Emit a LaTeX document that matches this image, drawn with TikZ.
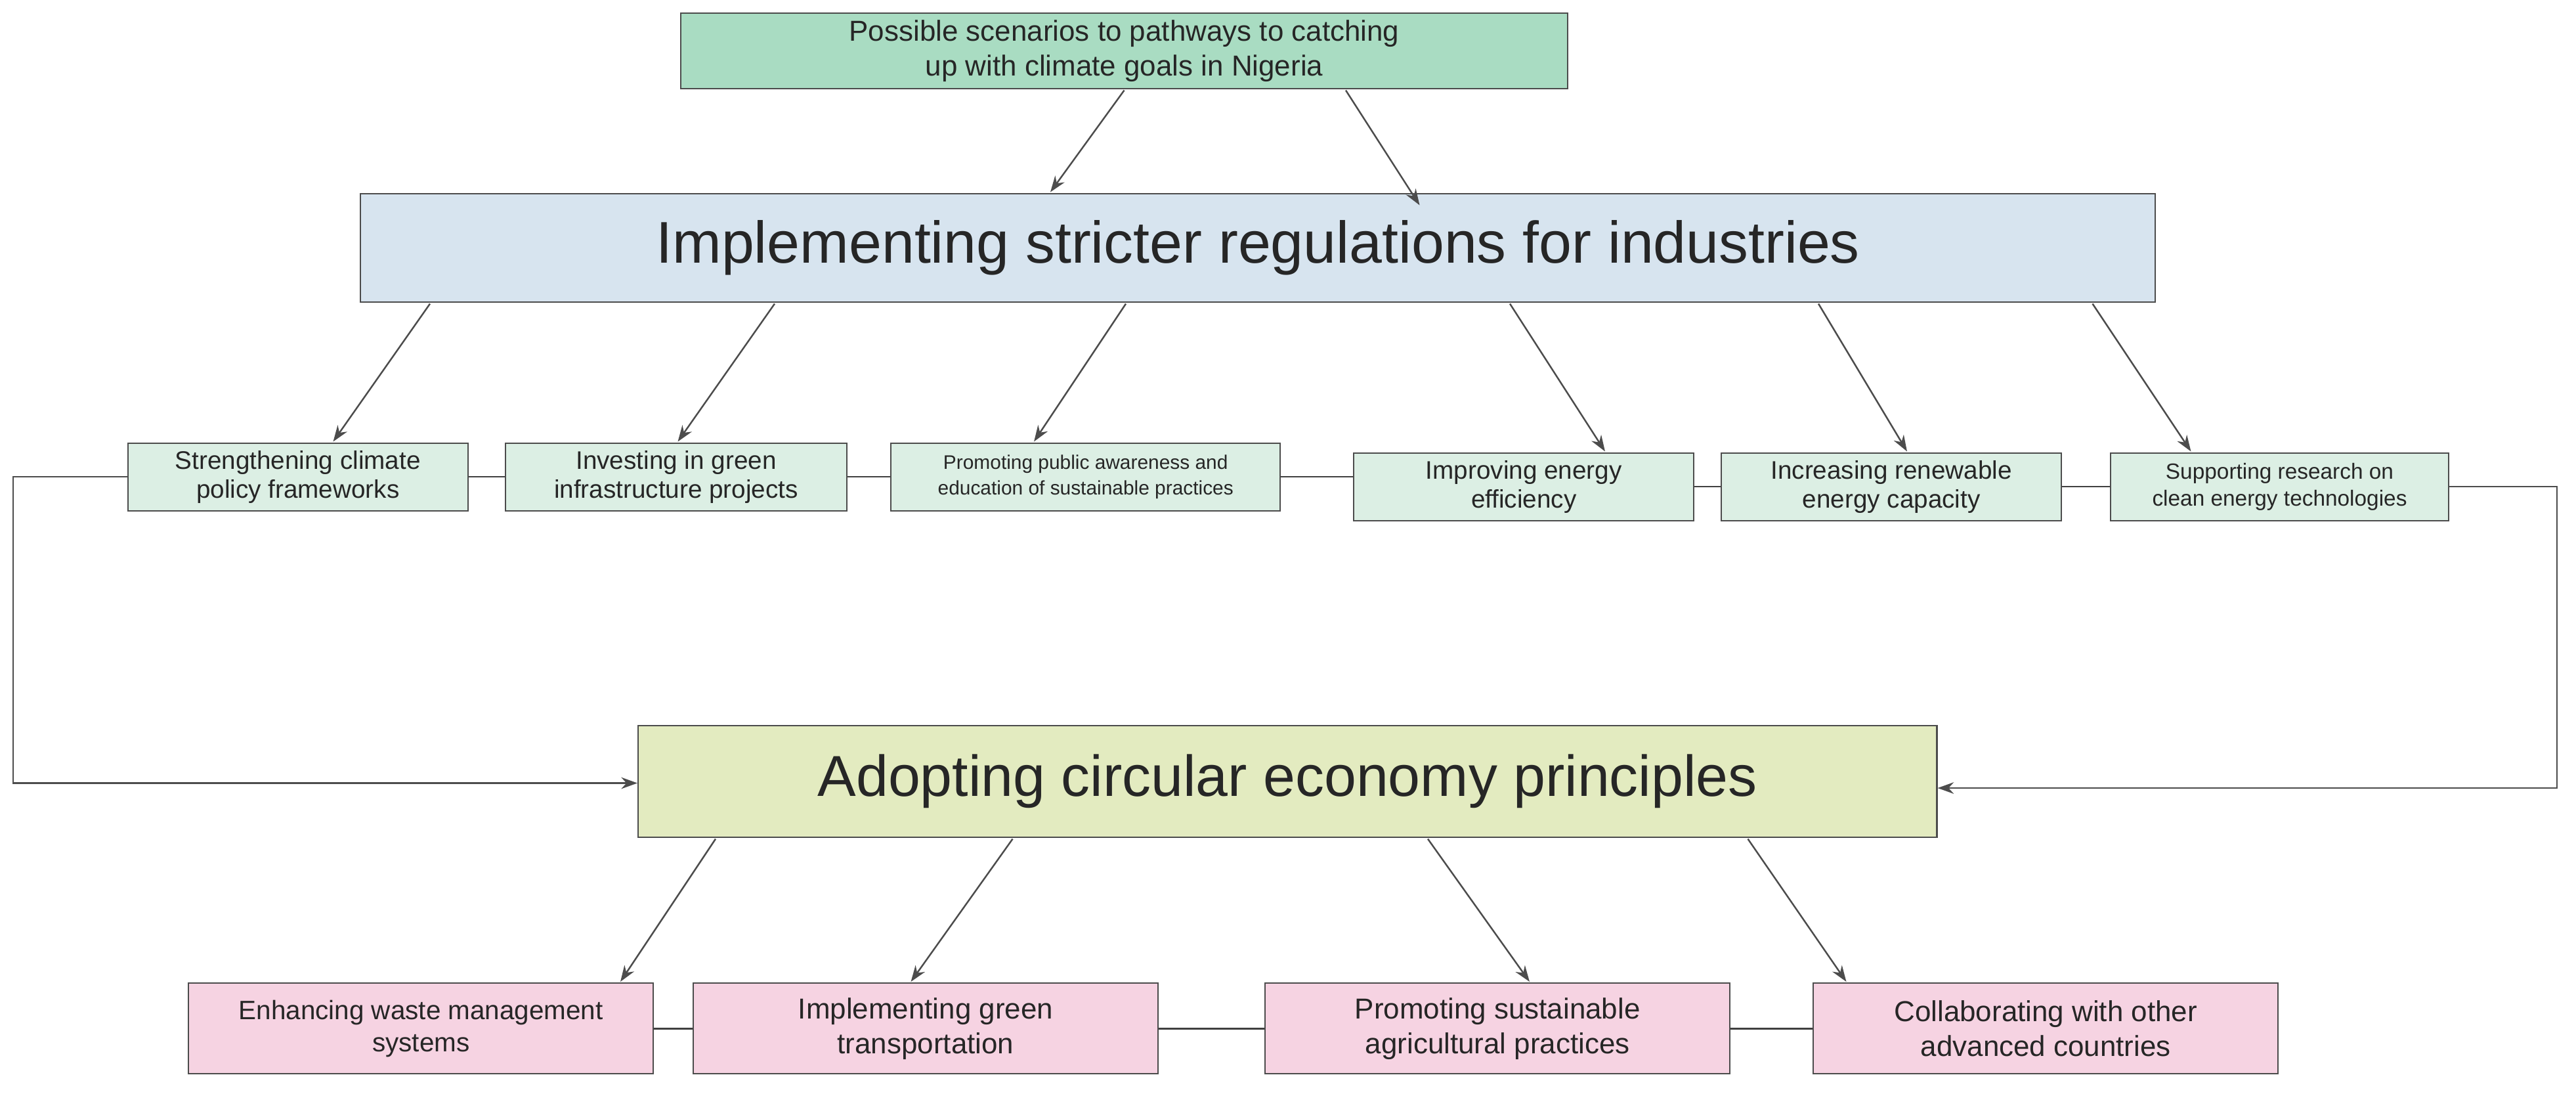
\documentclass[tikz,border=0pt]{standalone}
\usepackage{fontspec}
\setmainfont{Liberation Sans}
\usetikzlibrary{arrows.meta}
\begin{document}
\begin{tikzpicture}[x=0.025cm,y=-0.025cm,
  box/.style={draw=black!70,line width=0.6pt,inner sep=1pt,align=center,text=black!85},
  arr/.style={draw=black!70,line width=0.7pt,-{Stealth[length=7pt,width=5pt]}},
  ln/.style={draw=black!75,line width=0.7pt}]
\useasboundingbox (0,0) rectangle (1569.6,667.2);
\definecolor{cg}{HTML}{A9DCC2}\definecolor{cb}{HTML}{D7E4EF}
\definecolor{cm}{HTML}{DCEFE4}\definecolor{cy}{HTML}{E3EBC0}\definecolor{cp}{HTML}{F6D3E2}
\node[box,fill=cg,minimum width=13.5cm,minimum height=1.15cm,font=\fontsize{12.5}{15}\selectfont] (top) at (685,31) {Possible scenarios to pathways to catching\\up with climate goals in Nigeria};
\node[box,fill=cb,minimum width=27.33cm,minimum height=1.65cm,font=\fontsize{25.5}{30}\selectfont] (reg) at (766.5,151) {Implementing stricter regulations for industries};
\tikzset{mid/.style={box,fill=cm,minimum height=1.03cm,font=\fontsize{11}{12.5}\selectfont}}
\node[mid,minimum width=5.18cm] (m1) at (181.5,290.5) {Strengthening climate\\policy frameworks};
\node[mid,minimum width=5.2cm] (m2) at (412,290.5) {Investing in green\\infrastructure projects};
\node[mid,minimum width=5.93cm,font=\fontsize{8.5}{11}\selectfont] (m3) at (661.5,290.5) {Promoting public awareness and\\education of sustainable practices};
\node[mid,minimum width=5.18cm] (m4) at (928.5,296.5) {Improving energy\\efficiency};
\node[mid,minimum width=5.18cm] (m5) at (1152.5,296.5) {Increasing renewable\\energy capacity};
\node[mid,minimum width=5.15cm,font=\fontsize{9.5}{11.5}\selectfont] (m6) at (1389,296.5) {Supporting research on\\clean energy technologies};
\node[box,fill=cy,minimum width=19.78cm,minimum height=1.7cm,font=\fontsize{25}{30}\selectfont] (ce) at (784.5,476) {Adopting circular economy principles};
\tikzset{pk/.style={box,fill=cp,minimum width=7.08cm,minimum height=1.38cm,font=\fontsize{12.5}{15}\selectfont}}
\node[pk,font=\fontsize{11.5}{14}\selectfont] (p1) at (256.5,626.5) {Enhancing waste management\\systems};
\node[pk] (p2) at (564,626.5) {Implementing green\\transportation};
\node[pk] (p3) at (912.5,626.5) {Promoting sustainable\\agricultural practices};
\node[pk] (p4) at (1246.5,626.5) {Collaborating with other\\advanced countries};
% arrows
\draw[arr] (685,55) -- (640,117);
\draw[arr] (820,55) -- (865,125);
\draw[arr] (262,185) -- (203,269);
\draw[arr] (472,185) -- (413,269);
\draw[arr] (686,185) -- (630,269);
\draw[arr] (920,185) -- (978,275);
\draw[arr] (1108,185) -- (1162,275);
\draw[arr] (1275,185) -- (1335,275);
\draw[arr] (436,511) -- (378,598);
\draw[arr] (617,511) -- (555,598);
\draw[arr] (870,511) -- (932,598);
\draw[arr] (1065,511) -- (1125,598);
% connecting lines
\draw[ln] (m1) -- (m2); \draw[ln] (m2) -- (m3);
\draw[ln] (m3.east) -- (m4.west|-m3.east);
\draw[ln] (m4) -- (m5); \draw[ln] (m5) -- (m6);
\draw[ln] (p1) -- (p2); \draw[ln] (p2) -- (p3); \draw[ln] (p3) -- (p4);
\draw[arr] (m1.west) -| (8,477) -- (ce.west|-0,477);
\draw[arr] (m6.east) -| (1558,480) -- (ce.east|-0,480);
\end{tikzpicture}
\end{document}
